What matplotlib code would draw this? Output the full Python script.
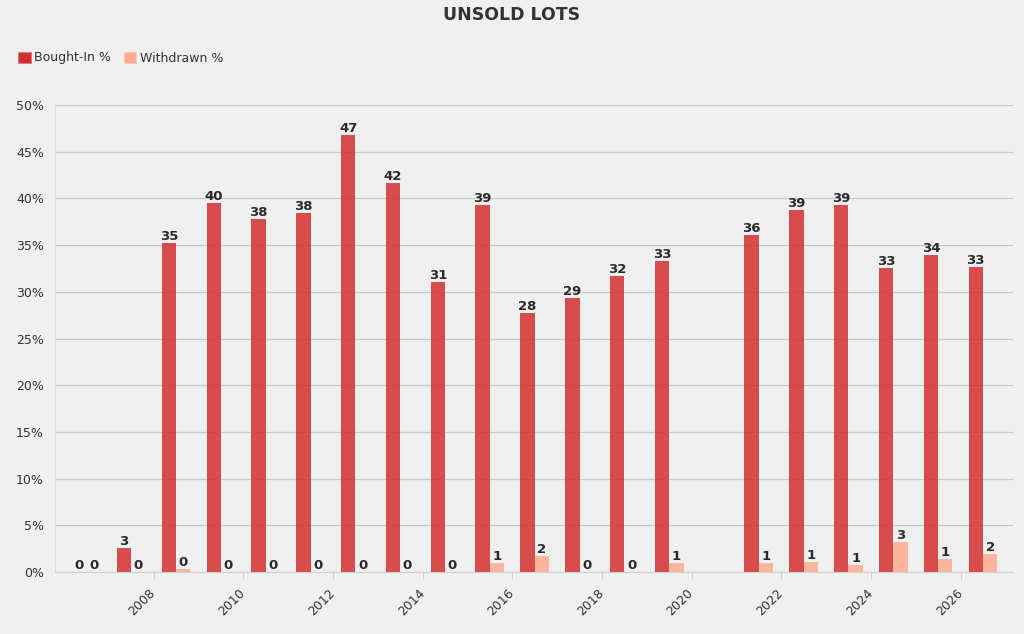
import matplotlib
matplotlib.use("Agg")
import matplotlib.pyplot as plt
from matplotlib.patches import Patch
import numpy as np

years = [2006, 2007, 2008, 2009, 2010, 2011, 2012, 2013, 2014, 2015, 2016,
         2017, 2018, 2019, 2021, 2022, 2023, 2024, 2025, 2026]
bought_in = [0.0, 2.6, 35.2, 39.5, 37.8, 38.4, 46.8, 41.6, 31.1, 39.3, 27.7,
             29.3, 31.7, 33.3, 36.1, 38.8, 39.3, 32.6, 33.9, 32.7]
withdrawn = [0.0, 0.0, 0.3, 0.0, 0.0, 0.0, 0.0, 0.0, 0.0, 1.0, 1.7,
             0.0, 0.0, 0.95, 1.0, 1.1, 0.7, 3.25, 1.4, 1.95]
yticks = [0, 5, 10, 15, 20, 25, 30, 35, 40, 45, 50]
xticks = [2008, 2010, 2012, 2014, 2016, 2018, 2020, 2022, 2024, 2026]

BG = "#f0f0f0"
C_BI = "#d32f2f"
C_WD = "#ffab91"

fig = plt.figure(figsize=(10.24, 6.34), dpi=100, facecolor=BG)
ax = fig.add_axes([55/1024, 62/634, (1013-55)/1024, (572-105)/634], facecolor=BG)

x = np.array(years) + 0.5
w = 0.32
b1 = ax.bar(x - w/2, bought_in, width=w, color=C_BI, alpha=0.85, zorder=3)
b2 = ax.bar(x + w/2, withdrawn, width=w, color=C_WD, alpha=0.85, zorder=3)

for bars, vals in ((b1, bought_in), (b2, withdrawn)):
    for r, v in zip(bars, vals):
        ax.text(r.get_x() + r.get_width()/2, v, f"{v:.0f}", ha="center", va="bottom",
                fontsize=9.5, fontweight="bold", color="#2a2a2a", zorder=4)

ax.set_xlim(2005.8, 2027.17)
ax.set_ylim(0, 50)
ax.set_yticks(yticks)
ax.set_yticklabels([f"{t}%" for t in yticks], fontsize=9, color="#333333")
ax.set_xticks(xticks)
ax.set_xticklabels([str(t) for t in xticks], rotation=45, ha="right", va="center",
                   rotation_mode="anchor", fontsize=9, color="#333333")
ax.tick_params(axis="y", length=0, pad=8)
ax.tick_params(axis="x", length=5, color="#d0d0d0", pad=8.5)
ax.grid(axis="y", color="#c8c8c8", linewidth=0.9, zorder=0)
for s in ("top", "right"):
    ax.spines[s].set_visible(False)
ax.spines["bottom"].set_color("#d0d0d0")
ax.spines["left"].set_color("#dcdcdc")

fig.text(0.5, 1 - 15/634, "UNSOLD LOTS", ha="center", va="center",
         fontsize=12.5, fontweight="bold", color="#333333")
handles = [Patch(facecolor=C_BI, edgecolor="#e57373", linewidth=0.6, label="Bought-In %"),
           Patch(facecolor=C_WD, edgecolor="#ffc4b0", linewidth=0.6, label="Withdrawn %")]
fig.legend(handles=handles, loc="center left", bbox_to_anchor=(7/1024, 1 - 58/634),
           ncol=2, frameon=False, fontsize=9, handlelength=1.0, handleheight=1.0,
           handletextpad=0.3, columnspacing=1.0, labelcolor="#333333")

fig.savefig("out.png", dpi=100, facecolor=BG)
